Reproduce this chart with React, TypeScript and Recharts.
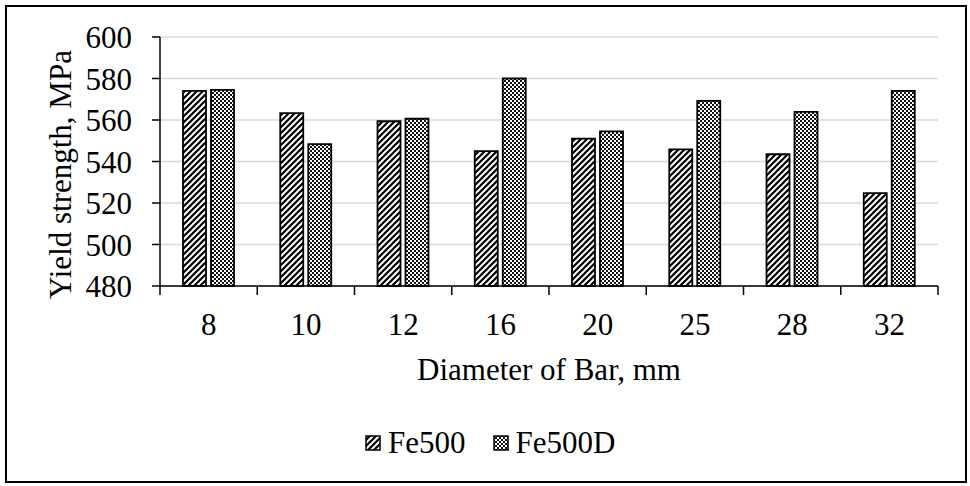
import { BarChart, Bar, XAxis, YAxis, CartesianGrid, Legend, Label } from 'recharts';

const diameters = ['8', '10', '12', '16', '20', '25', '28', '32'];
const fe500 = [574, 563.3, 559.4, 545, 551, 545.8, 543.5, 524.8];
const fe500d = [574.5, 548.4, 560.6, 580, 554.5, 569.2, 563.9, 574];
const yTicks = [480, 500, 520, 540, 560, 580, 600];

const data = diameters.map((d, i) => ({ diameter: d, fe500: fe500[i], fe500d: fe500d[i] }));

const FONT = '"Liberation Serif", "Times New Roman", serif';
const AXIS_Y = 286;

const series = [
  { key: 'fe500', name: 'Fe500', fill: 'url(#hatchUp)' },
  { key: 'fe500d', name: 'Fe500D', fill: 'url(#checker)' },
];

// Shared fill patterns (referenced by bars and legend swatches)
function Patterns() {
  return (
    <svg width={0} height={0} style={{ position: 'absolute' }}>
      <defs>
        <pattern id="hatchUp" width={6} height={6} patternUnits="userSpaceOnUse">
          <rect width={6} height={6} fill="#fff" />
          <path d="M-1,1 L1,-1 M0,6 L6,0 M5,7 L7,5" stroke="#000" strokeWidth={2.2} />
        </pattern>
        <pattern id="checker" width={4} height={4} patternUnits="userSpaceOnUse">
          <rect width={4} height={4} fill="#fff" />
          <rect x={0} y={0} width={2} height={2} fill="#111" />
          <rect x={2} y={2} width={2} height={2} fill="#111" />
        </pattern>
      </defs>
    </svg>
  );
}

// Category label plus a tick mark on the band boundary (Excel style)
function DiameterTick(props: any) {
  const { x, y, payload } = props;
  const half = payload.offset ?? (938 - 160) / diameters.length / 2;
  return (
    <g>
      {payload.index === 0 && (
        <line x1={x - half} x2={x - half} y1={AXIS_Y} y2={AXIS_Y + 9} stroke="#000" strokeWidth={1.5} />
      )}
      <line x1={x + half} x2={x + half} y1={AXIS_Y} y2={AXIS_Y + 9} stroke="#000" strokeWidth={1.5} />
      <text x={x} y={y + 40} textAnchor="middle" fontFamily={FONT} fontSize={31} fill="#000">
        {payload.value}
      </text>
    </g>
  );
}

function LegendContent() {
  return (
    <div style={{ display: 'flex', alignItems: 'center', fontFamily: FONT, fontSize: 31, color: '#000' }}>
      {series.map((s, i) => (
        <div key={s.key} style={{ display: 'flex', alignItems: 'center', marginRight: i === 0 ? 27 : 0 }}>
          <svg width={16} height={16} style={{ marginRight: 7 }}>
            <rect x={1} y={1} width={14} height={14} fill={s.fill} stroke="#000" strokeWidth={1.5} />
          </svg>
          <span style={{ lineHeight: '36px' }}>{s.name}</span>
        </div>
      ))}
    </div>
  );
}

export default function App() {
  return (
    <div style={{ position: 'absolute', left: 0, top: 0, width: 970, height: 486, background: '#fff' }}>
      <Patterns />
      <div
        style={{
          position: 'absolute',
          left: 5,
          top: 5,
          width: 958,
          height: 474,
          border: '2px solid #000',
        }}
      />
      <BarChart
        width={970}
        height={486}
        data={data}
        margin={{ top: 37, right: 32, left: 60, bottom: 140 }}
        barSize={23}
        barGap={5}
        style={{ position: 'absolute', left: 0, top: 0 }}
      >
        <CartesianGrid vertical={false} stroke="#d9d9d9" strokeWidth={1.5} />
        <XAxis
          dataKey="diameter"
          height={60}
          axisLine={{ stroke: '#000', strokeWidth: 1.5 }}
          tickLine={false}
          tickSize={9}
          tickMargin={0}
          tick={<DiameterTick />}
          interval={0}
        >
          <Label
            content={({ viewBox }: any) => (
              <text
                x={viewBox.x + viewBox.width / 2}
                y={viewBox.y + 94}
                textAnchor="middle"
                fontFamily={FONT}
                fontSize={31}
                fill="#000"
              >
                Diameter of Bar, mm
              </text>
            )}
          />
        </XAxis>
        <YAxis
          width={100}
          domain={[480, 600]}
          ticks={yTicks}
          interval={0}
          axisLine={{ stroke: '#000', strokeWidth: 1.5 }}
          tickLine={{ stroke: '#000', strokeWidth: 1.5 }}
          tickSize={8}
          tickMargin={20}
          tick={{ fontFamily: FONT, fontSize: 31, fill: '#000' }}
        >
          <Label
            content={({ viewBox }: any) => {
              const lx = viewBox.x + 11;
              const ly = viewBox.y + viewBox.height / 2 + 13;
              return (
                <text
                  x={lx}
                  y={ly}
                  transform={`rotate(-90, ${lx}, ${ly})`}
                  textAnchor="middle"
                  fontFamily={FONT}
                  fontSize={31}
                  fill="#000"
                >
                  Yield strength, MPa
                </text>
              );
            }}
          />
        </YAxis>
        <Legend
          verticalAlign="middle"
          content={<LegendContent />}
          wrapperStyle={{ top: 425, left: 365, width: 'auto' }}
        />
        {series.map((s) => (
          <Bar
            key={s.key}
            dataKey={s.key}
            name={s.name}
            fill={s.fill}
            stroke="#000"
            strokeWidth={1.8}
            isAnimationActive={false}
          />
        ))}
      </BarChart>
    </div>
  );
}
